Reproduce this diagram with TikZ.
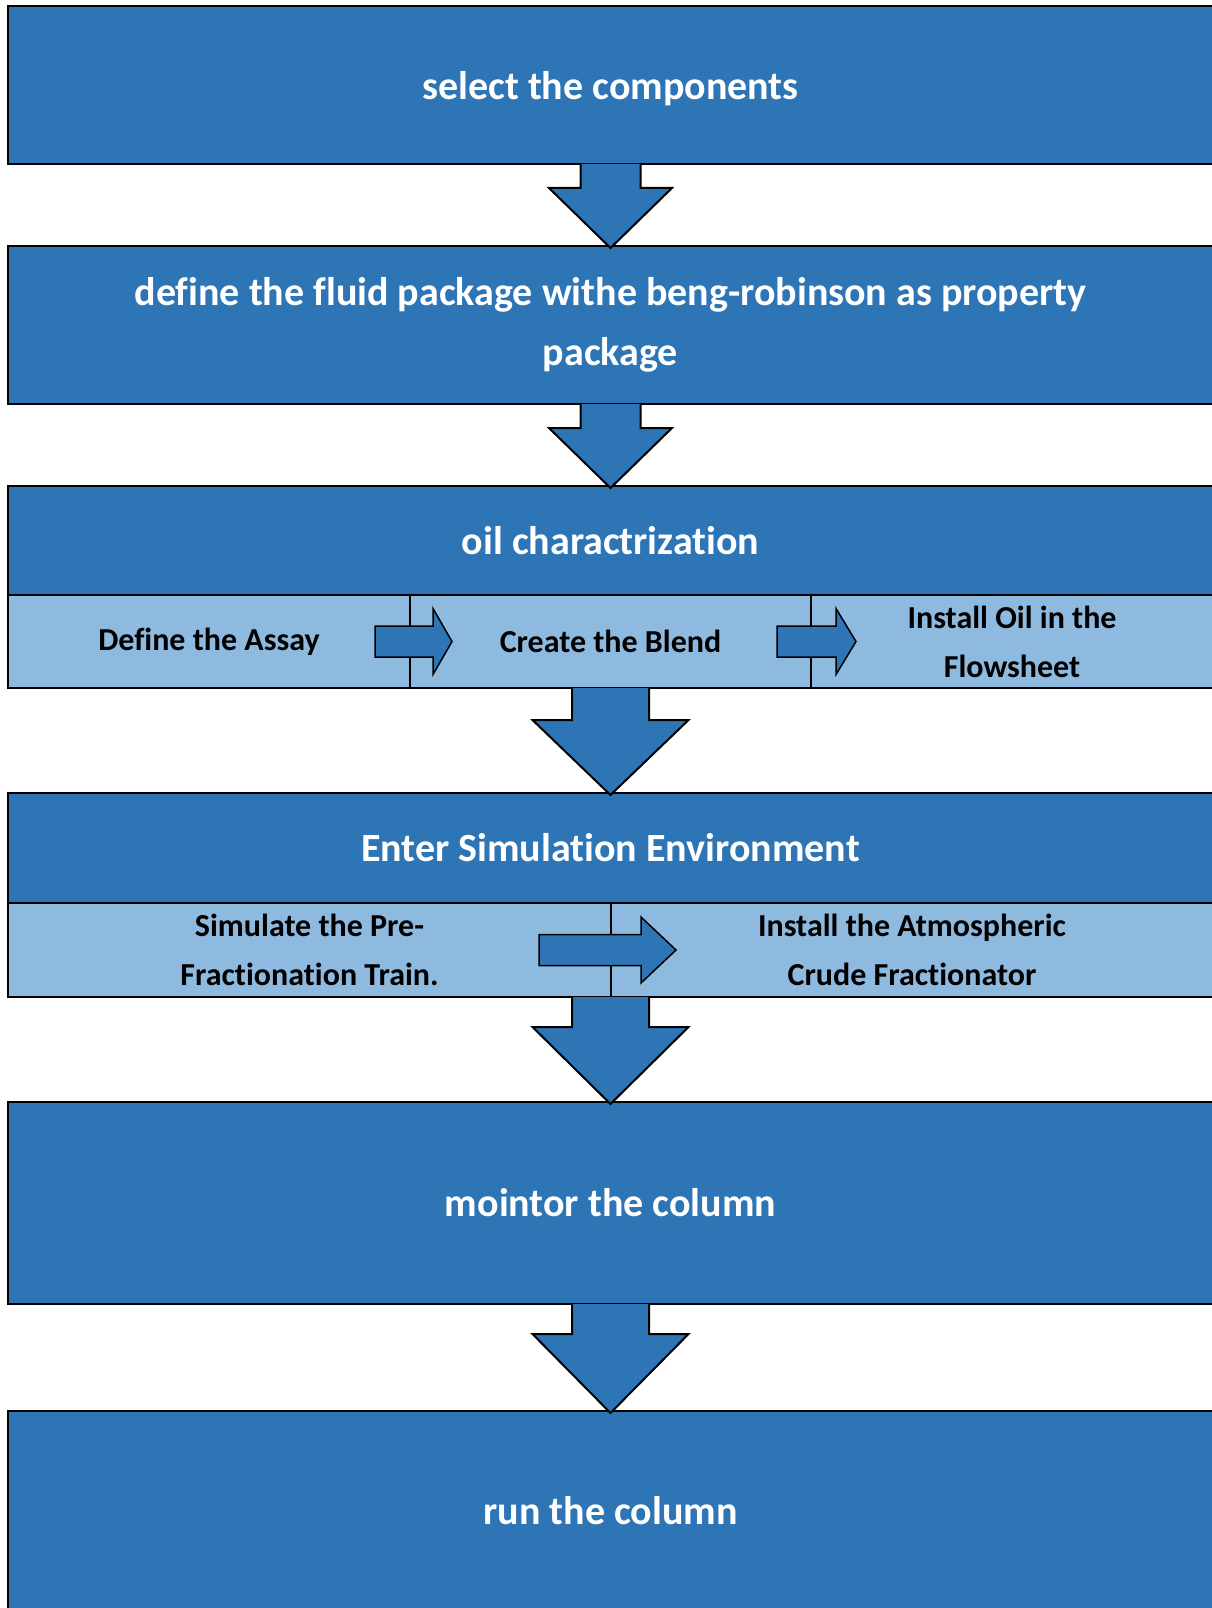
\documentclass[tikz,border=0pt]{standalone}
\usepackage{fontspec}
\setmainfont{Carlito}[Ligatures=NoCommon, RawFeature={-liga;-clig}]
\usetikzlibrary{calc}
\definecolor{mainblue}{RGB}{46,117,182}
\definecolor{lightblue}{RGB}{143,186,224}
\tikzset{
  bigbox/.style={draw=black, line width=2.2pt, fill=mainblue, text=white,
    font=\bfseries\fontsize{40}{60}\selectfont, align=center, inner sep=0pt,
    outer sep=0pt, anchor=north west},
  subcell/.style={draw=none, fill=lightblue, text=black,
    font=\bfseries\fontsize{32}{49}\selectfont, align=center, inner sep=0pt,
    outer sep=0pt, anchor=north west},
  frame/.style={draw=black, line width=2.2pt, inner sep=0pt, outer sep=0pt, anchor=north west},
  divider/.style={draw=black, line width=1.4pt},
  arrowline/.style={draw=black, line width=2pt, line join=miter},
  smallarrow/.style={draw=black, line width=1.5pt, fill=mainblue, line join=miter},
}
\newcommand\bigarr[5]{%
  \fill[mainblue] ($(#1.south)+(-#3,0)$) -- ($(#1.south)+(-#3,#5)$) -- ($(#1.south)+(-#4,#5)$)
    -- ($(#2.north)+(0,2)$) -- ($(#1.south)+(#4,#5)$) -- ($(#1.south)+(#3,#5)$) -- ($(#1.south)+(#3,0)$) -- cycle;
  \draw[arrowline] ($(#1.south)+(-#3,0)$) -- ($(#1.south)+(-#3,#5)$) -- ($(#1.south)+(-#4,#5)$)
    -- ($(#2.north)+(0,2)$) -- ($(#1.south)+(#4,#5)$) -- ($(#1.south)+(#3,#5)$) -- ($(#1.south)+(#3,0)$);
}
\newcommand\smallarr[5]{% #1 left cell, #2 right cell, #3 shaft start dx, #4 head base dx, #5 tip dx
  \draw[smallarrow] ($(#1.east)+(#3,-15.5)$) -- ($(#2.west)+(#4,-15.5)$) -- ($(#2.west)+(#4,-33)$)
    -- ($(#2.west)+(#5,0)$) -- ($(#2.west)+(#4,33)$) -- ($(#2.west)+(#4,15.5)$)
    -- ($(#1.east)+(#3,15.5)$) -- cycle;
}
\begin{document}
\begin{tikzpicture}[x=1pt, y=-1pt]
\useasboundingbox (0,0) rectangle (1212,1608);
\clip (0,0) rectangle (1212,1608);

% boxes
\node[bigbox, minimum width=1205pt, minimum height=158pt] (b1) at (8,6) {\rule{0pt}{36pt}select the components};
\node[bigbox, minimum width=1205pt, minimum height=158pt] (b2) at (8,246)
  {define the fluid package withe beng-robinson as property\\package};
\node[bigbox, minimum width=1205pt, minimum height=109pt] (b3) at (8,486) {oil charactrization};
\node[subcell, minimum width=402pt, minimum height=93pt] (c1) at (8,595) {Define the Assay};
\node[subcell, minimum width=401pt, minimum height=93pt] (c2) at (410,595) {Create the Blend};
\node[subcell, minimum width=402pt, minimum height=93pt] (c3) at (811,595) {Install Oil in the\\Flowsheet};
\draw[divider] (c1.north east) -- (c1.south east);
\draw[divider] (c2.north east) -- (c2.south east);
\node[frame, minimum width=1205pt, minimum height=93pt] (f3) at (8,595) {};

\node[bigbox, minimum width=1205pt, minimum height=110pt] (b4) at (8,793) {Enter Simulation Environment};
\node[subcell, minimum width=603pt, minimum height=94pt] (d1) at (8,903) {Simulate the Pre-\\Fractionation Train.};
\node[subcell, minimum width=602pt, minimum height=94pt] (d2) at (611,903) {Install the Atmospheric\\Crude Fractionator};
\draw[divider] (d1.north east) -- (d1.south east);
\node[frame, minimum width=1205pt, minimum height=94pt] (f4) at (8,903) {};

\node[bigbox, minimum width=1205pt, minimum height=202pt] (b5) at (8,1102) {mointor the column};
\node[bigbox, minimum width=1205pt, minimum height=199pt] (b6) at (8,1411) {run the column};

% small arrows
\smallarr{c1}{c2}{-35}{23}{42}
\smallarr{c2}{c3}{-34}{25}{45}
\smallarr{d1}{d2}{-72}{30}{65}

% big arrows
\bigarr{b1}{b2}{30}{61.5}{24}
\bigarr{b2}{b3}{30}{61.5}{24}
\bigarr{f3}{b4}{38.5}{78}{32}
\bigarr{f4}{b5}{38.5}{78}{30}
\bigarr{b5}{b6}{38.5}{78}{30}
\end{tikzpicture}
\end{document}
